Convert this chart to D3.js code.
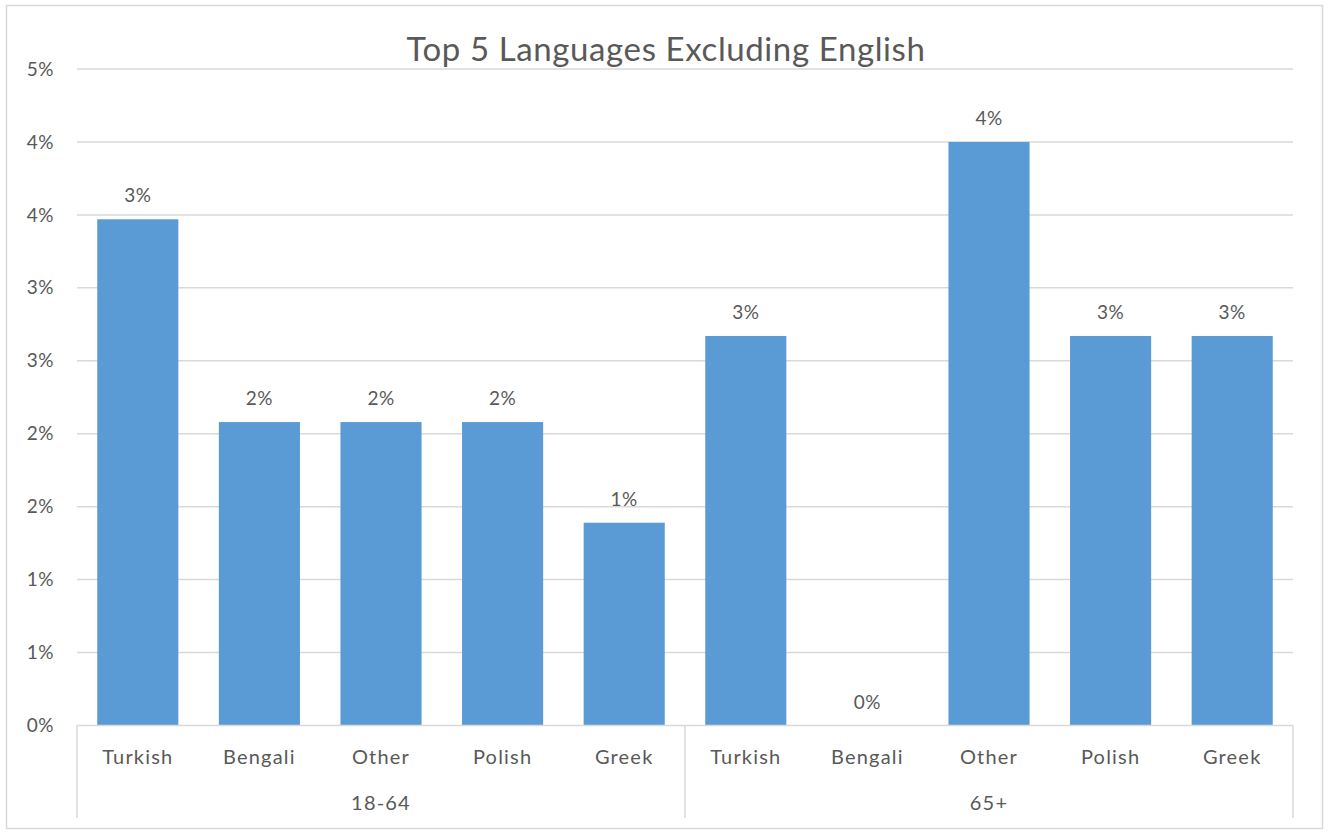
<!DOCTYPE html>
<html>
<head>
<meta charset="utf-8">
<script src="https://cdn.jsdelivr.net/npm/d3@7"></script>
<style>
  body { margin: 0; background: #fff; }
  text { font-family: Lato, "Open Sans", sans-serif; fill: #595959; }
</style>
</head>
<body>
<div id="chart"></div>
<script>
// chart data
var groups = ["18-64", "65+"];
var languages = ["Turkish", "Bengali", "Other", "Polish", "Greek"];
var values1864 = [0.0347, 0.0208, 0.0208, 0.0208, 0.0139];
var values65 = [0.0267, 0.0, 0.04, 0.0267, 0.0267];
var tickValues = [0, 0.005, 0.01, 0.015, 0.02, 0.025, 0.03, 0.035, 0.04, 0.045];
var tickLabels = ["0%", "1%", "1%", "2%", "2%", "3%", "3%", "4%", "4%", "5%"];

var rows = [];
groups.forEach(function(g, gi) {
    var vals = gi === 0 ? values1864 : values65;
    languages.forEach(function(l, li) {
        rows.push({ key: g + "|" + l, group: g, lang: l, value: vals[li] });
    });
});

var width = 1332, height = 834;
var margin = { left: 77, right: 39, top: 69, bottom: 108 };

var svg = d3.select("#chart").append("svg")
    .attr("width", width)
    .attr("height", height);

// outer border
svg.append("rect")
    .attr("x", 6.5).attr("y", 5.5)
    .attr("width", 1316).attr("height", 823)
    .attr("fill", "none")
    .attr("stroke", "#d9d9d9")
    .attr("stroke-width", 1.5);

var xScale = d3.scaleBand()
    .domain(rows.map(d => d.key))
    .range([margin.left, width - margin.right])
    .paddingInner(0.333)
    .paddingOuter(0.1665);

var yScale = d3.scaleLinear()
    .domain([0, 0.045])
    .range([height - margin.bottom - 0.5, margin.top]);

// gridlines
svg.append("g")
    .selectAll("line")
    .data(tickValues.slice(1))
    .enter()
    .append("line")
    .attr("x1", margin.left)
    .attr("x2", width - margin.right)
    .attr("y1", d => yScale(d))
    .attr("y2", d => yScale(d))
    .attr("stroke", "#d9d9d9")
    .attr("stroke-width", 1.5);

// y tick labels
svg.append("g")
    .selectAll("text")
    .data(tickValues)
    .enter()
    .append("text")
    .attr("x", 54)
    .attr("y", d => yScale(d))
    .attr("dy", "0.35em")
    .attr("text-anchor", "end")
    .style("font-size", "19px")
    .style("letter-spacing", "0.5px")
    .text((d, i) => tickLabels[i]);

// bars
svg.append("g")
    .selectAll("rect")
    .data(rows)
    .enter()
    .append("rect")
    .attr("x", d => xScale(d.key))
    .attr("y", d => yScale(d.value))
    .attr("width", xScale.bandwidth())
    .attr("height", d => yScale(0) - yScale(d.value))
    .attr("fill", "#5b9bd5");

// data labels
svg.append("g")
    .selectAll("text")
    .data(rows)
    .enter()
    .append("text")
    .attr("x", d => xScale(d.key) + xScale.bandwidth() / 2)
    .attr("y", d => yScale(d.value) - 17)
    .attr("text-anchor", "middle")
    .style("font-size", "19px")
    .style("letter-spacing", "0.5px")
    .text(d => d3.format(".0%")(d.value));

// x axis line
var axisY = yScale(0);
svg.append("line")
    .attr("x1", margin.left).attr("x2", width - margin.right)
    .attr("y1", axisY).attr("y2", axisY)
    .attr("stroke", "#d9d9d9")
    .attr("stroke-width", 1.5);

// group separators
var groupEdges = [margin.left, (margin.left + width - margin.right) / 2, width - margin.right];
svg.append("g")
    .selectAll("line")
    .data(groupEdges)
    .enter()
    .append("line")
    .attr("x1", d => d).attr("x2", d => d)
    .attr("y1", axisY).attr("y2", 818)
    .attr("stroke", "#d9d9d9")
    .attr("stroke-width", 1.5);

// category labels
svg.append("g")
    .selectAll("text")
    .data(rows)
    .enter()
    .append("text")
    .attr("x", d => xScale(d.key) + xScale.bandwidth() / 2)
    .attr("y", 764)
    .attr("text-anchor", "middle")
    .style("font-size", "20px")
    .style("letter-spacing", "1.2px")
    .text(d => d.lang);

// group labels
svg.append("g")
    .selectAll("text")
    .data(groups)
    .enter()
    .append("text")
    .attr("x", (d, i) => (groupEdges[i] + groupEdges[i + 1]) / 2)
    .attr("y", 810)
    .attr("text-anchor", "middle")
    .style("font-size", "20px")
    .style("letter-spacing", "1.2px")
    .text(d => d);

// title
svg.append("text")
    .attr("x", 666)
    .attr("y", 61)
    .attr("text-anchor", "middle")
    .style("font-size", "33px")
    .style("letter-spacing", "0.6px")
    .text("Top 5 Languages Excluding English");
</script>
</body>
</html>
